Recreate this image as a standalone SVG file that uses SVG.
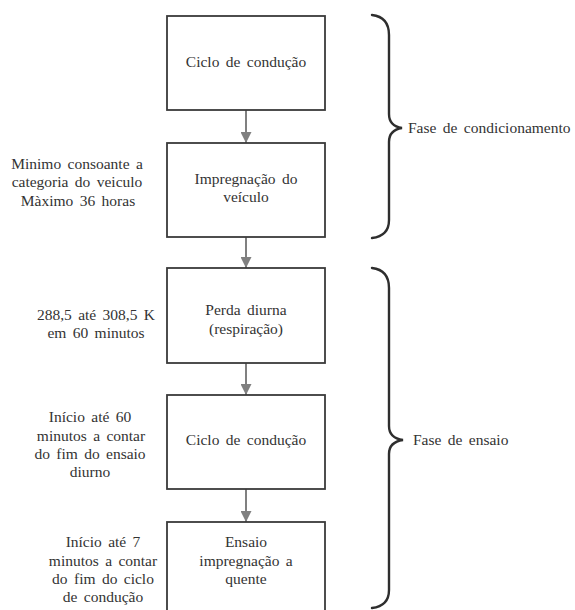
<svg xmlns="http://www.w3.org/2000/svg" width="575" height="610" viewBox="0 0 575 610">
<style>
  .box { fill: #ffffff; stroke: #3a3a3a; stroke-width: 1.8; }
  text { font-family: 'Liberation Serif', 'DejaVu Serif', serif; font-size: 15.5px; fill: #333333; word-spacing: 2.5px; }
  .t { text-anchor: middle; }
  .conn { stroke: #808080; stroke-width: 2; fill: none; }
  .brace { stroke: #2e2e2e; stroke-width: 2.4; fill: none; stroke-linecap: round; }
</style>
<defs>
  <marker id="ah" viewBox="0 0 10 10" refX="10" refY="5" markerWidth="5.5" markerHeight="5.5" markerUnits="strokeWidth" orient="auto">
    <path d="M0,0 L10,5 L0,10 Z" fill="#808080"/>
  </marker>
</defs>
<rect width="575" height="610" fill="#ffffff"/>

<g id="connectors">
  <line class="conn" x1="246" y1="110" x2="246" y2="143" marker-end="url(#ah)"/>
  <line class="conn" x1="246" y1="237" x2="246" y2="268" marker-end="url(#ah)"/>
  <line class="conn" x1="246" y1="363" x2="246" y2="395" marker-end="url(#ah)"/>
  <line class="conn" x1="246" y1="489" x2="246" y2="522" marker-end="url(#ah)"/>
</g>

<g id="box1">
  <rect class="box" x="167" y="16" width="158" height="94"/>
  <text class="t" x="246" y="67">Ciclo de condução</text>
</g>
<g id="box2">
  <rect class="box" x="167" y="143" width="158" height="94"/>
  <text class="t" x="246" y="184">Impregnação do</text>
  <text class="t" x="246" y="202">veículo</text>
</g>
<g id="box3">
  <rect class="box" x="167" y="268" width="158" height="95"/>
  <text class="t" x="246" y="315">Perda diurna</text>
  <text class="t" x="246" y="334">(respiração)</text>
</g>
<g id="box4">
  <rect class="box" x="167" y="395" width="158" height="94"/>
  <text class="t" x="246" y="445">Ciclo de condução</text>
</g>
<g id="box5">
  <rect class="box" x="167" y="522" width="158" height="100"/>
  <text class="t" x="246" y="547">Ensaio</text>
  <text class="t" x="246" y="566">impregnação a</text>
  <text class="t" x="246" y="584">quente</text>
</g>

<g id="note1">
  <text class="t" x="77" y="169">Minimo consoante a</text>
  <text class="t" x="77" y="187">categoria do veiculo</text>
  <text class="t" x="78" y="206">Màximo 36 horas</text>
</g>
<g id="note2">
  <text class="t" x="96" y="320">288,5 até 308,5 K</text>
  <text class="t" x="96" y="338">em 60 minutos</text>
</g>
<g id="note3">
  <text class="t" x="90" y="422">Início até 60</text>
  <text class="t" x="91" y="441">minutos a contar</text>
  <text class="t" x="90" y="459">do fim do ensaio</text>
  <text class="t" x="90" y="477">diurno</text>
</g>
<g id="note4">
  <text class="t" x="103" y="547">Início até 7</text>
  <text class="t" x="103" y="566">minutos a contar</text>
  <text class="t" x="103" y="584">do fim do ciclo</text>
  <text class="t" x="103" y="602">de condução</text>
</g>

<g id="brace1">
  <path class="brace" d="M372,15 Q389,17 389,35 L389,114 Q389,126 402,128 Q389,130 389,142 L389,220 Q389,236 372,238"/>
  <text x="408" y="133">Fase de condicionamento</text>
</g>
<g id="brace2">
  <path class="brace" d="M372,268 Q389,270 389,288 L389,426 Q389,438 403,440 Q389,442 389,454 L389,590 Q389,606 372,608"/>
  <text x="413" y="445">Fase de ensaio</text>
</g>
</svg>
